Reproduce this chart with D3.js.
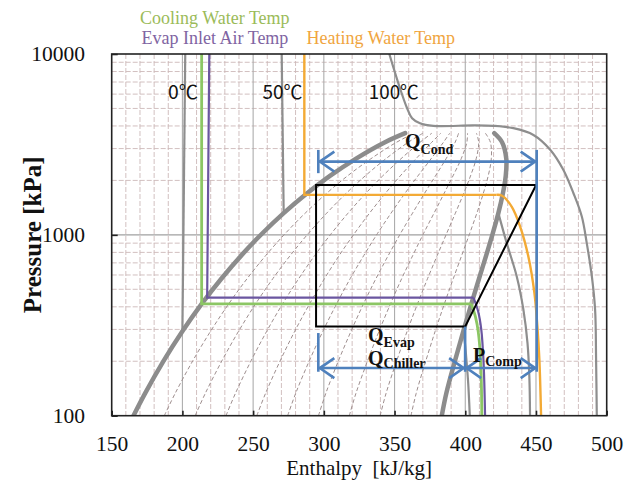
<!DOCTYPE html>
<html><head><meta charset="utf-8">
<script src="https://cdn.jsdelivr.net/npm/d3@7/dist/d3.min.js"></script>
<style>body{margin:0;background:#fff}svg{display:block}</style>
</head><body>
<script>
// ---------------- data ----------------
const xTicks = [150,200,250,300,350,400,450,500];
const yTicks = [100,1000,10000];

// saturation dome (pressure kPa, enthalpy kJ/kg)
const satP    = [100,133,201,293,415,572,770,1017,1318,1682,2117,2633,3244,3650];
const satLiqH = [165.4,173.6,186.7,200.0,213.6,227.5,241.7,256.4,271.6,287.5,304.3,322.5,342.9,357.5];
const satVapH = [383.4,386.6,392.7,398.6,404.3,409.7,414.8,419.4,423.4,426.5,428.6,429.0,426.1,420.5];

// constant-quality lines x = 0.1 ... 0.9 (enthalpy at each satP)
const qualityH = [
  [187.2,194.9,207.3,219.9,232.7,245.7,259.0,272.7,286.8,301.4,316.7,333.2,351.2,363.8],
  [209.0,216.2,227.9,239.7,251.7,263.9,276.3,289.0,302.0,315.3,329.2,343.8,359.5,370.1],
  [230.8,237.5,248.5,259.6,270.8,282.2,293.6,305.3,317.1,329.2,341.6,354.5,367.9,376.4],
  [252.6,258.8,269.1,279.4,289.9,300.4,310.9,321.6,332.3,343.1,354.0,365.1,376.2,382.7],
  [274.4,280.1,289.7,299.3,309.0,318.6,328.3,337.9,347.5,357.0,366.5,375.8,384.5,389.0],
  [296.2,301.4,310.3,319.2,328.0,336.8,345.6,354.2,362.7,370.9,378.9,386.4,392.8,395.3],
  [318.0,322.7,330.9,339.0,347.1,355.0,362.9,370.5,377.9,384.8,391.3,397.1,401.1,401.6],
  [339.8,344.0,351.5,358.9,366.2,373.3,380.2,386.8,393.0,398.7,403.7,407.7,409.5,407.9],
  [361.6,365.3,372.1,378.7,385.2,391.5,397.5,403.1,408.2,412.6,416.2,418.4,417.8,414.2]
];

// isotherms (gray)
const iso0LiqH = [202.0,200.0],  iso0LiqP = [10000,293];
const iso0VapH = [398.6,399.8,400.9,402.1,403.2], iso0VapP = [293,250,200,150,100];
const iso50LiqH = [270.2,271.6], iso50LiqP = [10000,1318];
const iso50VapH = [423.4,429.3,436.4,441.1,444.0,445.3,445.8];
const iso50VapP = [1318,900,589,386,252,165,100];
const iso100H = [346.3,352.7,358.8,362.4,368.0,377.4,405.7,419.9,434.0,448.2,460.2,469.4,476.5,482.4,485.9,489.5,491.8,492.5,493.0];
const iso100P = [10000,6883,5027,4419,4142,4005,4030,4005,3888,3568,2949,2286,1698,1262,900,589,386,204,100];

// process temperature lines
const coolLiqH = [213.6,213.6,404.3], coolLiqP = [10000,415,415];
const coolVapH = [404.3,407.3,409.2,410.9,411.7], coolVapP = [415,350,290,200,100];
const evapLiqH = [219.0,217.5,405.8], evapLiqP = [10000,450,450];
const evapVapH = [405.8,409.0,411.3,412.9,414.0], evapVapP = [450,380,300,200,100];
const heatLiqH = [286.2,286.2,422.0], heatLiqP = [10000,1664,1664];
const heatVapH = [422.0,425.7,432.8,438.8,444.6,448.9,451.0,452.4,453.6];
const heatVapP = [1664,1650,1433,1111,759,476,311,204,100];

// refrigeration cycle
const cycleH = [294.5,399.9,450.1,294.5];
const cycleP = [311,311,1889,1889];

// energy arrows
const condArrow = {h1:296.1, h2:450.5, p:2541};
const evapArrow = {h1:296.1, h2:399.9, p:183.4};
const compArrow = {h1:399.9, h2:450.5, p:183.4};
const blueVert = [
  {h:296.1, p1:2949, p2:2193},
  {h:450.5, p1:2949, p2:175},
  {h:296.1, p1:286.5, p2:175},
  {h:399.9, p1:311, p2:175}
];

const legendTexts = ["Cooling Water Temp","Evap Inlet Air Temp","Heating Water Temp"];
const tempLabels = ["0\u2103","50\u2103","100\u2103"];

// ---------------- drawing ----------------
const W = 641, H = 484;
const L = 111.7, R = 606.7, T = 54, B = 415.7;
const x = d3.scaleLinear().domain([150,500]).range([L,R]);
const y = d3.scaleLog().domain([100,10000]).range([B,T]);

const svg = d3.select("body").append("svg").attr("width",W).attr("height",H);
svg.append("rect").attr("width",W).attr("height",H).attr("fill","#fff");

const serif = "Liberation Serif";
const gothic = "Noto Sans CJK JP";

const plot = svg.append("g");
svg.append("clipPath").attr("id","clip").append("rect")
  .attr("x",L).attr("y",T).attr("width",R-L).attr("height",B-T);
plot.attr("clip-path","url(#clip)");

// grid
const minorX = d3.range(160,500,10).filter(v => v % 50 !== 0);
const majorX = d3.range(200,500,50);
const minorY = d3.range(200,1000,100).concat(d3.range(2000,10000,1000));
const gridMinor = "#cdb9b9";
plot.selectAll(".gxm").data(minorX).join("line")
  .attr("x1",d=>x(d)).attr("x2",d=>x(d)).attr("y1",T).attr("y2",B)
  .attr("stroke",gridMinor).attr("stroke-width",0.9).attr("stroke-dasharray","5,2");
plot.selectAll(".gym").data(minorY).join("line")
  .attr("x1",L).attr("x2",R).attr("y1",d=>y(d)).attr("y2",d=>y(d))
  .attr("stroke",gridMinor).attr("stroke-width",0.9).attr("stroke-dasharray","5,2");
plot.selectAll(".gxM").data(majorX).join("line")
  .attr("x1",d=>x(d)).attr("x2",d=>x(d)).attr("y1",T).attr("y2",B)
  .attr("stroke","#adadad").attr("stroke-width",1.1);
plot.selectAll(".gyM").data([1000]).join("line")
  .attr("x1",L).attr("x2",R).attr("y1",d=>y(d)).attr("y2",d=>y(d))
  .attr("stroke","#a0a0a0").attr("stroke-width",1.3);

const zip = (hs,ps) => hs.map((h,i)=>[h,ps[i]]);
const lineLin = d3.line().x(d=>x(d[0])).y(d=>y(d[1]));
const lineCurve = d3.line().x(d=>x(d[0])).y(d=>y(d[1])).curve(d3.curveCatmullRom.alpha(0.5));

// quality lines
qualityH.forEach(hs => {
  plot.append("path").attr("d",lineCurve(zip(hs,satP)))
    .attr("fill","none").attr("stroke","#9e8e8e").attr("stroke-width",1)
    .attr("stroke-dasharray","4,2.5");
});

// isotherms
const isoStyle = p => p.attr("fill","none").attr("stroke","#8e8e8e").attr("stroke-width",2.2);
plot.append("path").attr("d",lineLin(zip(iso0LiqH,iso0LiqP))).call(isoStyle);
plot.append("path").attr("d",lineCurve(zip(iso0VapH,iso0VapP))).call(isoStyle);
plot.append("path").attr("d",lineLin(zip(iso50LiqH,iso50LiqP))).call(isoStyle);
plot.append("path").attr("d",lineCurve(zip(iso50VapH,iso50VapP))).call(isoStyle);
plot.append("path").attr("d",lineCurve(zip(iso100H,iso100P))).call(isoStyle);

// saturation dome
plot.append("path").attr("d",lineCurve(zip(satLiqH,satP)))
  .attr("fill","none").attr("stroke","#8c8c8c").attr("stroke-width",4.5).attr("stroke-linecap","round");
plot.append("path").attr("d",lineCurve(zip(satVapH,satP)))
  .attr("fill","none").attr("stroke","#8c8c8c").attr("stroke-width",4.5).attr("stroke-linecap","round");

// process temperature lines
const procLine = (hl,pl,hv,pv,col,w) => {
  plot.append("path").attr("d",lineLin(zip(hl,pl))).attr("fill","none")
    .attr("stroke",col).attr("stroke-width",w).attr("stroke-linejoin","miter");
  plot.append("path").attr("d",lineCurve(zip(hv,pv))).attr("fill","none")
    .attr("stroke",col).attr("stroke-width",w);
};
procLine(coolLiqH,coolLiqP,coolVapH,coolVapP,"#8cc664",2.8);
procLine(evapLiqH,evapLiqP,evapVapH,evapVapP,"#6a56a0",2.2);
procLine(heatLiqH,heatLiqP,heatVapH,heatVapP,"#f3aa35",2.4);

// cycle
plot.append("path").attr("d",lineLin(zip(cycleH,cycleP))+"Z")
  .attr("fill","none").attr("stroke","#000").attr("stroke-width",2);

// blue arrows
const blue = "#4f81bd";
const ag = svg.append("g").attr("stroke",blue).attr("stroke-width",2.6).attr("fill","none");
blueVert.forEach(v => {
  ag.append("line").attr("x1",x(v.h)).attr("x2",x(v.h)).attr("y1",y(v.p1)).attr("y2",y(v.p2));
});
const drawArrow = a => {
  const x1 = x(a.h1), x2 = x(a.h2), yy = y(a.p);
  ag.append("line").attr("x1",x1+1).attr("x2",x2-1).attr("y1",yy).attr("y2",yy);
  ag.append("path").attr("d",`M${x1+16},${yy-10}L${x1+1.5},${yy}L${x1+16},${yy+10}`);
  ag.append("path").attr("d",`M${x2-16},${yy-10}L${x2-1.5},${yy}L${x2-16},${yy+10}`);
};
[condArrow,evapArrow,compArrow].forEach(drawArrow);

// border
svg.append("rect").attr("x",L).attr("y",T).attr("width",R-L).attr("height",B-T)
  .attr("fill","none").attr("stroke","#222").attr("stroke-width",1.6);

// axes
const xAxis = d3.axisBottom(x).tickValues(xTicks).tickSizeInner(-5).tickSizeOuter(0).tickPadding(20).tickFormat(d3.format("d"));
const gx = svg.append("g").attr("transform",`translate(0,${B})`).call(xAxis);
const yAxis = d3.axisLeft(y).tickValues(yTicks).tickSizeInner(-6).tickSizeOuter(0).tickPadding(26.7).tickFormat(d3.format("d"));
const gy = svg.append("g").attr("transform",`translate(${L},0)`).call(yAxis);
[gx,gy].forEach(g => {
  g.attr("font-family",serif);
  g.select(".domain").remove();
  g.selectAll("line").attr("stroke","#222").attr("stroke-width",1.6);
  g.selectAll("text").attr("font-family",serif).attr("font-size",21.5).attr("fill","#111");
});

// axis titles
svg.append("text").attr("x",(L+R)/2).attr("y",475).attr("text-anchor","middle")
  .attr("font-family",serif).attr("font-size",21).attr("fill","#111")
  .style("white-space","pre").text("Enthalpy  [kJ/kg]");
svg.append("text").attr("transform",`translate(41,${(T+B)/2}) rotate(-90)`).attr("text-anchor","middle")
  .attr("font-family",serif).attr("font-size",25).attr("font-weight","bold").attr("fill","#111")
  .text("Pressure [kPa]");

// legend texts
const legendCols = ["#9bbb59","#8064a2","#f0a540"];
const legendPos = [[140,24],[141.5,43.5],[306.5,43.5]];
legendTexts.forEach((t,i) => {
  svg.append("text").attr("x",legendPos[i][0]).attr("y",legendPos[i][1])
    .attr("font-family",serif).attr("font-size",18).attr("fill",legendCols[i])
    .text(t);
});

// temperature labels
const tempPos = [[189.8,5650],[256.6,5650],[331.8,5650]];
const tempW = [30,40,50];
tempLabels.forEach((t,i) => {
  svg.append("text").attr("x",x(tempPos[i][0])).attr("y",y(tempPos[i][1]))
    .attr("font-family",gothic).attr("font-size",19).attr("fill","#111")
    .attr("textLength",tempW[i]).attr("lengthAdjust","spacingAndGlyphs").text(t);
});

// Q / P labels
const qLabel = (xp,yp,main,sub,subDy) => {
  const t = svg.append("text").attr("x",xp).attr("y",yp)
    .attr("font-family",serif).attr("font-weight","bold").attr("fill","#111");
  t.append("tspan").attr("font-size",20).text(main);
  t.append("tspan").attr("font-size",14).attr("dy",subDy).text(sub);
};
qLabel(405,148,"Q","Cond",6);
qLabel(368,342,"Q","Evap",5);
qLabel(368,365,"Q","Chiller",3);
qLabel(473,361.5,"P","Comp",4);
</script>
</body></html>
